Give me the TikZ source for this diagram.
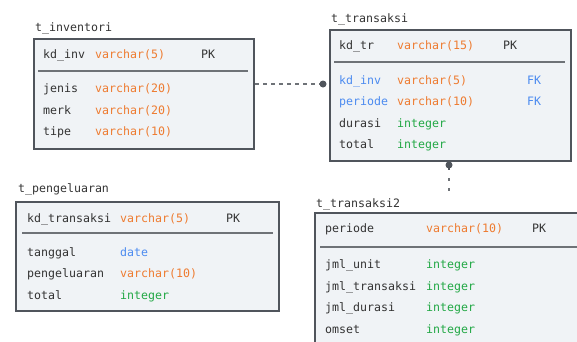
\documentclass[tikz,border=0pt]{standalone}
\usepackage{fontspec}
\setmonofont{DejaVu Sans Mono}
\usepackage{tikz}
\usetikzlibrary{calc}

\definecolor{boxfill}{HTML}{F0F3F6}
\definecolor{boxline}{HTML}{50555C}
\definecolor{seprule}{HTML}{6E7277}
\definecolor{txt}{HTML}{333333}
\definecolor{tvarchar}{HTML}{EE7B30}
\definecolor{tint}{HTML}{22A845}
\definecolor{tblue}{HTML}{4C8BF0}

\tikzset{
  tbl/.style={draw=boxline, line width=2pt, fill=boxfill, anchor=north west, inner sep=0pt},
  sep/.style={draw=seprule, line width=1.6pt},
  title/.style={anchor=base west, inner sep=0pt, text=txt, font=\ttfamily\fontsize{11.6}{12}\selectfont},
  fld/.style={anchor=base west, inner sep=0pt, text=txt, font=\ttfamily\fontsize{11.6}{12}\selectfont},
  rel/.style={draw=seprule, line width=1.3pt, dash pattern=on 4pt off 4pt},
  relv/.style={draw=seprule, line width=1.3pt, dash pattern=on 3pt off 7pt},
  reldot/.style={fill=boxline}
}

\begin{document}
\begin{tikzpicture}[x=1pt, y=-1pt]
\useasboundingbox (0,0) rectangle (577,341);
\clip (0,0) rectangle (577,341);

% t_inventori
\node[title] (invt) at (35,31) {t\_inventori};
\node[tbl, minimum width=220pt, minimum height=110pt] (inv) at (33,38) {};
\draw[sep] (38,71) -- (248,71);
\node[fld] (inv1) at (43,58) {kd\_inv};
\node[fld, text=tvarchar] (inv1t) at (95,58) {varchar(5)};
\node[fld] (inv1k) at (201,58) {PK};
\foreach \n/\t [count=\i] in {jenis/varchar(20), merk/varchar(20), tipe/varchar(10)}{
  \node[fld] (inv\i n) at (43,{71+21.5*\i}) {\n};
  \node[fld, text=tvarchar] (inv\i ty) at (95,{71+21.5*\i}) {\t};
}

% t_transaksi
\node[title] (trt) at (331,22) {t\_transaksi};
\node[tbl, minimum width=241pt, minimum height=131pt] (tr) at (329,29) {};
\draw[sep] (334,62) -- (565,62);
\node[fld] (tr1) at (339,49) {kd\_tr};
\node[fld, text=tvarchar] (tr1t) at (397,49) {varchar(15)};
\node[fld] (tr1k) at (503,49) {PK};
\node[fld, text=tblue] (tr2) at (339,84) {kd\_inv};
\node[fld, text=tvarchar] (tr2t) at (397,84) {varchar(5)};
\node[fld, text=tblue] (tr2k) at (527,84) {FK};
\node[fld, text=tblue] (tr3) at (339,105.5) {periode};
\node[fld, text=tvarchar] (tr3t) at (397,105.5) {varchar(10)};
\node[fld, text=tblue] (tr3k) at (527,105.5) {FK};
\node[fld] (tr4) at (339,127) {durasi};
\node[fld, text=tint] (tr4t) at (397,127) {integer};
\node[fld] (tr5) at (339,148.5) {total};
\node[fld, text=tint] (tr5t) at (397,148.5) {integer};

% t_pengeluaran
\node[title] (pgt) at (18,192) {t\_pengeluaran};
\node[tbl, minimum width=263pt, minimum height=109pt] (pg) at (15,201) {};
\draw[sep] (22,233) -- (273,233);
\node[fld] (pg1) at (27,222) {kd\_transaksi};
\node[fld, text=tvarchar] (pg1t) at (120,222) {varchar(5)};
\node[fld] (pg1k) at (226,222) {PK};
\node[fld] (pg2) at (27,256) {tanggal};
\node[fld, text=tblue] (pg2t) at (120,256) {date};
\node[fld] (pg3) at (27,277.5) {pengeluaran};
\node[fld, text=tvarchar] (pg3t) at (120,277.5) {varchar(10)};
\node[fld] (pg4) at (27,299) {total};
\node[fld, text=tint] (pg4t) at (120,299) {integer};

% t_transaksi2
\node[title] (trbt) at (316,207) {t\_transaksi2};
\node[tbl, minimum width=280pt, minimum height=150pt] (trb) at (314,212) {};
\draw[sep] (320,247) -- (590,247);
\node[fld] (trb1) at (325,232.5) {periode};
\node[fld, text=tvarchar] (trb1t) at (426,232.5) {varchar(10)};
\node[fld] (trb1k) at (532,232.5) {PK};
\foreach \n [count=\i] in {jml\_unit, jml\_transaksi, jml\_durasi, omset}{
  \node[fld] (trb\i n) at (325,{247+21.5*\i}) {\n};
  \node[fld, text=tint] (trb\i ty) at (426,{247+21.5*\i}) {integer};
}

% relations
\coordinate (invend) at (323,84);
\draw[rel] (inv.east |- invend) -- (invend);
\fill[reldot] (invend) circle (3.5);
\coordinate (trdot) at (449,165);
\coordinate (trbend) at (449,194);
\draw[boxline, line width=1.5pt] (trdot) -- ++(0,5);
\draw[relv] ($(trdot)+(0,13)$) -- (trbend);
\fill[reldot] (trdot) circle (3.5);
\end{tikzpicture}
\end{document}
